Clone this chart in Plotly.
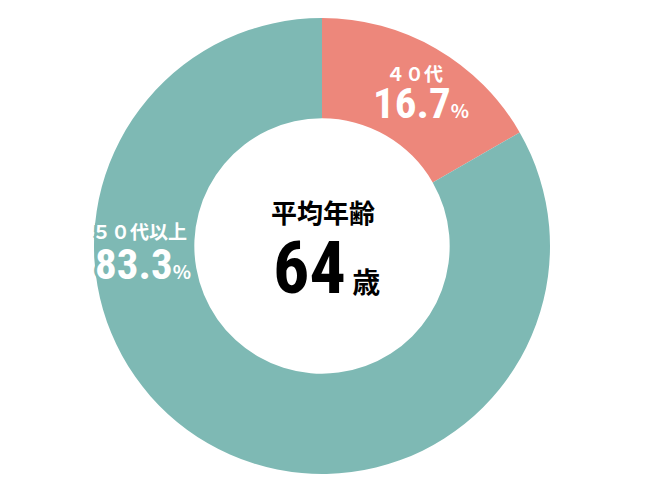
import plotly.graph_objects as go

# データ
labels = ["４０代", "５０代以上"]
values = [16.7, 83.3]
colors = ["#ED877B", "#7EB9B4"]
center_title = "平均年齢"
avg_age = 64
age_unit = "歳"

W, H = 650, 500
OFF = 8  # ページ余白のずれ


def px(x, y):
    # ピクセル座標 -> paper座標
    return (x - OFF) / W, 1 - (y - OFF) / H


fig = go.Figure()
fig.add_trace(go.Pie(
    labels=labels, values=values, hole=0.56, sort=False,
    direction="clockwise", rotation=0,
    marker=dict(colors=colors, line=dict(width=0)),
    textinfo="none", hoverinfo="skip", showlegend=False,
    domain=dict(x=[(94 - OFF) / W, (550 - OFF) / W], y=[(26 + OFF) / H, (482 + OFF) / H]),
))

num_font = "Roboto Condensed, Roboto, sans-serif"
jp_font = "Noto Sans CJK JP"
teal_stroke = ", ".join(f"#7EB9B4 {dx}px {dy}px 0px" for dx, dy in
                        [(3, 0), (-3, 0), (0, 3), (0, -3), (2, 2), (-2, -2), (2, -2), (-2, 2)])

label_pos = [((414, 72), (421, 103)), ((139, 231), (143, 264))]
outlined = [False, True]


def add_text(x, y, text, font, outline=False):
    xp, yp = px(x, y)
    opts = dict(x=xp, y=yp, xref="paper", yref="paper", xanchor="center", yanchor="middle",
                showarrow=False, text=text)
    if outline:
        fig.add_annotation(**opts, font=dict(font, color="#7EB9B4", shadow=teal_stroke))
    fig.add_annotation(**opts, font=font)


for lab, val, (lp, vp), ol in zip(labels, values, label_pos, outlined):
    add_text(lp[0], lp[1], f"<b>{lab}</b>",
             dict(family=jp_font, size=19, color="white"), ol)
    add_text(vp[0], vp[1],
             f"<b>{val:.1f}<span style='font-family:Noto Sans CJK JP;font-size:19px'>%</span></b>",
             dict(family=num_font, size=43, color="white"), ol)

add_text(323, 212, f"<b>{center_title}</b>", dict(family=jp_font, size=26, color="black"))
add_text(326, 268,
         f"<b>{avg_age}<span style='font-family:Noto Sans CJK JP;font-size:28px'> {age_unit}</span></b>",
         dict(family=num_font, size=72, color="black"))

fig.update_layout(width=W, height=H, margin=dict(l=0, r=0, t=0, b=0),
                  paper_bgcolor="white", plot_bgcolor="white")

fig.write_html("out.html")
